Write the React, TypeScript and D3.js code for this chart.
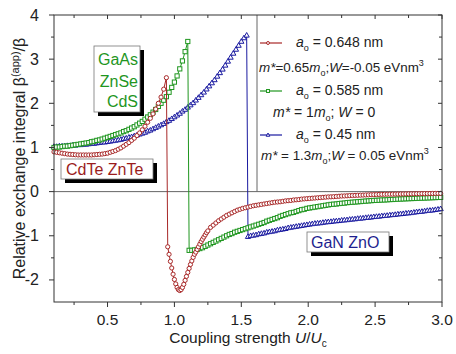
import React from "react";
import * as d3 from "d3";

// reading of the reference: relative exchange integral vs coupling strength
const X_TICKS = [0.5, 1.0, 1.5, 2.0, 2.5, 3.0];
const X_MINOR = [0.25, 0.75, 1.25, 1.75, 2.25, 2.75];
const Y_TICKS = [-2, -1, 0, 1, 2, 3, 4];
const Y_MINOR = [-1.5, -0.5, 0.5, 1.5, 2.5, 3.5];

// a0 = 0.648 nm (CdTe ZnTe)
// U/Uc = 0.10 .. 0.94 by 0.02
const RED_A = [
  0.9, 0.89, 0.88, 0.87, 0.86, 0.85, 0.845, 0.84, 0.835, 0.83, 0.83, 0.83, 0.83, 0.83, 0.83,
  0.835, 0.84, 0.845, 0.85, 0.86, 0.87, 0.89, 0.91, 0.93, 0.96, 0.99, 1.03, 1.07, 1.11, 1.16,
  1.21, 1.27, 1.33, 1.4, 1.48, 1.57, 1.66, 1.76, 1.87, 2.0, 2.14, 2.32, 2.58,
];
// U/Uc = 0.95 .. 1.25 by 0.01
const RED_B = [
  -1.25, -1.42, -1.58, -1.73, -1.87, -1.99, -2.09, -2.17, -2.22, -2.24, -2.22, -2.17, -2.1,
  -2.01, -1.92, -1.83, -1.74, -1.65, -1.57, -1.49, -1.42, -1.37, -1.31, -1.25, -1.19, -1.13,
  -1.08, -1.03, -0.98, -0.93, -0.89,
];
// U/Uc = 1.27 .. 2.99 by 0.02
const RED_C = [
  -0.81, -0.76, -0.71, -0.66, -0.62, -0.58, -0.54, -0.51, -0.48, -0.45, -0.42, -0.4, -0.38,
  -0.365, -0.35, -0.335, -0.32, -0.31, -0.3, -0.29, -0.28, -0.27, -0.26, -0.25, -0.24, -0.235,
  -0.23, -0.22, -0.21, -0.205, -0.2, -0.19, -0.185, -0.18, -0.17, -0.165, -0.16, -0.155, -0.15,
  -0.145, -0.14, -0.135, -0.13, -0.125, -0.12, -0.118, -0.115, -0.11, -0.105, -0.1, -0.098,
  -0.095, -0.09, -0.088, -0.085, -0.083, -0.08, -0.078, -0.075, -0.073, -0.07, -0.068, -0.066,
  -0.064, -0.062, -0.06, -0.059, -0.058, -0.057, -0.056, -0.055, -0.054, -0.053, -0.052, -0.051,
  -0.05, -0.049, -0.048, -0.047, -0.046, -0.045, -0.044, -0.043, -0.042, -0.041, -0.04, -0.04,
];

// a0 = 0.585 nm (GaAs ZnSe CdS)
// U/Uc = 0.10 .. 1.10 by 0.02
const GREEN_A = [
  1.0, 1.01, 1.01, 1.02, 1.03, 1.03, 1.04, 1.05, 1.06, 1.07, 1.08, 1.09, 1.1, 1.11, 1.13, 1.14,
  1.16, 1.17, 1.19, 1.21, 1.23, 1.25, 1.27, 1.29, 1.31, 1.33, 1.36, 1.38, 1.41, 1.44, 1.47, 1.51,
  1.55, 1.59, 1.64, 1.69, 1.74, 1.8, 1.86, 1.93, 2.0, 2.07, 2.15, 2.25, 2.36, 2.48, 2.62, 2.78,
  2.96, 3.17, 3.4,
];
// U/Uc = 1.11 .. 2.99 by 0.02
const GREEN_B = [
  -1.33, -1.33, -1.32, -1.31, -1.29, -1.27, -1.24, -1.21, -1.18, -1.15, -1.12, -1.09, -1.06,
  -1.03, -1.0, -0.97, -0.95, -0.92, -0.9, -0.88, -0.86, -0.84, -0.82, -0.8, -0.78, -0.76, -0.74,
  -0.72, -0.7, -0.67, -0.65, -0.63, -0.61, -0.59, -0.56, -0.54, -0.52, -0.5, -0.48, -0.47, -0.45,
  -0.43, -0.41, -0.4, -0.38, -0.37, -0.36, -0.35, -0.34, -0.33, -0.32, -0.31, -0.3, -0.29,
  -0.285, -0.28, -0.27, -0.265, -0.26, -0.25, -0.245, -0.24, -0.235, -0.23, -0.225, -0.22,
  -0.215, -0.21, -0.205, -0.2, -0.198, -0.195, -0.19, -0.188, -0.185, -0.18, -0.178, -0.175,
  -0.17, -0.168, -0.165, -0.162, -0.16, -0.157, -0.155, -0.152, -0.15, -0.147, -0.145, -0.142,
  -0.14, -0.137, -0.135, -0.132, -0.13,
];

// a0 = 0.45 nm (GaN ZnO)
// U/Uc = 0.10 .. 1.54 by 0.02
const BLUE_A = [
  1.02, 1.02, 1.03, 1.03, 1.03, 1.04, 1.04, 1.05, 1.05, 1.06, 1.06, 1.07, 1.07, 1.08, 1.09, 1.09,
  1.1, 1.11, 1.12, 1.12, 1.13, 1.14, 1.15, 1.16, 1.17, 1.18, 1.2, 1.21, 1.23, 1.24, 1.26, 1.28,
  1.3, 1.32, 1.34, 1.37, 1.39, 1.42, 1.45, 1.48, 1.51, 1.54, 1.58, 1.61, 1.65, 1.69, 1.73, 1.77,
  1.82, 1.86, 1.91, 1.96, 2.01, 2.07, 2.13, 2.19, 2.25, 2.32, 2.39, 2.46, 2.53, 2.61, 2.69, 2.77,
  2.86, 2.95, 3.04, 3.13, 3.22, 3.31, 3.4, 3.48, 3.54,
];
// U/Uc = 1.55 .. 2.99 by 0.02
const BLUE_B = [
  -1.02, -1.0, -0.99, -0.98, -0.96, -0.95, -0.94, -0.92, -0.91, -0.9, -0.89, -0.87, -0.86, -0.85,
  -0.84, -0.82, -0.81, -0.8, -0.79, -0.78, -0.77, -0.76, -0.75, -0.74, -0.73, -0.72, -0.715,
  -0.71, -0.7, -0.69, -0.685, -0.68, -0.67, -0.665, -0.66, -0.65, -0.645, -0.64, -0.63, -0.625,
  -0.62, -0.61, -0.605, -0.6, -0.59, -0.585, -0.58, -0.57, -0.565, -0.56, -0.55, -0.545, -0.54,
  -0.53, -0.525, -0.52, -0.51, -0.505, -0.5, -0.49, -0.485, -0.48, -0.47, -0.46, -0.455, -0.45,
  -0.44, -0.43, -0.425, -0.42, -0.41, -0.4, -0.39,
];

const RED = "#a82828";
const GREEN = "#1f961f";
const BLUE = "#1a1aa0";

const FONT = "'Liberation Sans', Arial, Helvetica, sans-serif";

type Pt = [number, number];

const seg = (x0: number, dx: number, ys: number[]): Pt[] =>
  ys.map((y, i) => [x0 + i * dx, y] as Pt);

const series = [
  { name: "blue", color: BLUE, marker: "tri", pts: [...seg(0.1, 0.02, BLUE_A), ...seg(1.55, 0.02, BLUE_B)] },
  { name: "green", color: GREEN, marker: "sq", pts: [...seg(0.1, 0.02, GREEN_A), ...seg(1.11, 0.02, GREEN_B)] },
  {
    name: "red",
    color: RED,
    marker: "circ",
    pts: [...seg(0.1, 0.02, RED_A), ...seg(0.95, 0.01, RED_B), ...seg(1.27, 0.02, RED_C)],
  },
];

function Marker({ kind, x, y, color, s = 1 }: { kind: string; x: number; y: number; color: string; s?: number }) {
  if (kind === "circ")
    return <circle cx={x} cy={y} r={2.1 * s} fill="white" stroke={color} strokeWidth={1} />;
  if (kind === "sq")
    return (
      <rect
        x={x - 2.1 * s}
        y={y - 2.1 * s}
        width={4.2 * s}
        height={4.2 * s}
        fill="white"
        stroke={color}
        strokeWidth={1}
      />
    );
  return (
    <path
      d={`M${x},${y - 2.8 * s}L${x + 2.6 * s},${y + 1.8 * s}L${x - 2.6 * s},${y + 1.8 * s}Z`}
      fill="white"
      stroke={color}
      strokeWidth={1}
    />
  );
}

function Boxed({ x, y, w, h, children }: { x: number; y: number; w: number; h: number; children: React.ReactNode }) {
  return (
    <g>
      <rect x={x + 4} y={y + 4} width={w} height={h} fill="black" />
      <rect x={x} y={y} width={w} height={h} fill="white" stroke="#777" strokeWidth={0.8} />
      {children}
    </g>
  );
}

export default function App() {
  const width = 456;
  const height = 354;
  const margin = { top: 15, right: 14, bottom: 52, left: 54 };
  const x = d3.scaleLinear().domain([0.1, 3.0]).range([margin.left, width - margin.right]);
  const y = d3.scaleLinear().domain([-2.5, 4]).range([height - margin.bottom, margin.top]);
  const [x0, x1] = x.range();
  const [y0, y1] = y.range();

  const line = d3
    .line<Pt>()
    .x((d) => x(d[0]))
    .y((d) => y(d[1]));

  const legendLeft = 257;
  const legendRows = [
    { color: RED, marker: "circ", y: 43 },
    { color: GREEN, marker: "sq", y: 91 },
    { color: BLUE, marker: "tri", y: 135 },
  ];

  return (
    <svg
      width={width}
      height={height}
      style={{ position: "absolute", left: 0, top: 0, background: "white" }}
      fontFamily={FONT}
    >
      <rect width={width} height={height} fill="white" />

      {/* zero line and legend frame */}
      <line x1={x0} x2={x1} y1={y(0)} y2={y(0)} stroke="#666" strokeWidth={1} />
      <line x1={legendLeft} x2={legendLeft} y1={y1} y2={y(0)} stroke="#666" strokeWidth={1} />

      {/* curves */}
      {series.map((s) => (
        <g key={s.name}>
          <path d={line(s.pts) || ""} fill="none" stroke={s.color} strokeWidth={1} />
          {s.pts.map((p, i) => (
            <Marker key={i} kind={s.marker} x={x(p[0])} y={y(p[1])} color={s.color} />
          ))}
        </g>
      ))}

      {/* frame */}
      <rect x={x0} y={y1} width={x1 - x0} height={y0 - y1} fill="none" stroke="#333" strokeWidth={1} />

      {/* x ticks */}
      {X_TICKS.map((t) => (
        <g key={"xt" + t}>
          <line x1={x(t)} x2={x(t)} y1={y0} y2={y0 + 5} stroke="#333" />
          <line x1={x(t)} x2={x(t)} y1={y1} y2={y1 + 4} stroke="#333" />
          <text x={x(t)} y={325} textAnchor="middle" fontSize={15.5} fill="#222">
            {d3.format(".1f")(t)}
          </text>
        </g>
      ))}
      {X_MINOR.map((t) => (
        <g key={"xm" + t}>
          <line x1={x(t)} x2={x(t)} y1={y0} y2={y0 + 3} stroke="#333" />
          <line x1={x(t)} x2={x(t)} y1={y1} y2={y1 + 3} stroke="#333" />
        </g>
      ))}

      {/* y ticks */}
      {Y_TICKS.map((t) => (
        <g key={"yt" + t}>
          <line x1={x0 - 5} x2={x0} y1={y(t)} y2={y(t)} stroke="#333" />
          <line x1={x1 - 4} x2={x1} y1={y(t)} y2={y(t)} stroke="#333" />
          <text x={39} y={y(t) + 5.5} textAnchor="end" fontSize={16} fill="#222">
            {String(t)}
          </text>
        </g>
      ))}
      {Y_MINOR.map((t) => (
        <g key={"ym" + t}>
          <line x1={x0 - 3} x2={x0} y1={y(t)} y2={y(t)} stroke="#333" />
          <line x1={x1 - 3} x2={x1} y1={y(t)} y2={y(t)} stroke="#333" />
        </g>
      ))}

      {/* axis titles */}
      <text x={(x0 + x1) / 2} y={343} textAnchor="middle" fontSize={15.5} fill="#222">
        Coupling strength <tspan fontStyle="italic">U</tspan>/<tspan fontStyle="italic">U</tspan>
        <tspan fontSize={10} dy={4}>c</tspan>
      </text>
      <text transform={`translate(25,${(y0 + y1) / 2}) rotate(-90)`} textAnchor="middle" fontSize={16} fill="#222">
        Relative exchange integral β<tspan fontSize={11} dy={-6}>(app)</tspan>
        <tspan dy={6}>/β</tspan>
      </text>

      {/* legend */}
      {legendRows.map((r, i) => (
        <g key={"lg" + i}>
          <line x1={260} x2={282} y1={r.y} y2={r.y} stroke={r.color} strokeWidth={1.2} />
          <Marker kind={r.marker} x={268} y={r.y} color={r.color} s={0.7} />
        </g>
      ))}
      <g fontSize={14} fill="#222">
        <text x={296} y={47}>
          <tspan fontStyle="italic">a</tspan>
          <tspan fontSize={9} dy={4}>o</tspan>
          <tspan dy={-4}> = 0.648 nm</tspan>
        </text>
        <text x={259} y={72} fontSize={13.4}>
          <tspan fontStyle="italic">m*</tspan>=0.65<tspan fontStyle="italic">m</tspan>
          <tspan fontSize={9} dy={4}>o</tspan>
          <tspan dy={-4}>;</tspan>
          <tspan fontStyle="italic">W</tspan>=-0.05 eVnm<tspan fontSize={9} dy={-6}>3</tspan>
        </text>
        <text x={296} y={95}>
          <tspan fontStyle="italic">a</tspan>
          <tspan fontSize={9} dy={4}>o</tspan>
          <tspan dy={-4}> = 0.585 nm</tspan>
        </text>
        <text x={273} y={117}>
          <tspan fontStyle="italic">m*</tspan> = 1<tspan fontStyle="italic">m</tspan>
          <tspan fontSize={9} dy={4}>o</tspan>
          <tspan dy={-4}>; </tspan>
          <tspan fontStyle="italic">W</tspan> = 0
        </text>
        <text x={296} y={139}>
          <tspan fontStyle="italic">a</tspan>
          <tspan fontSize={9} dy={4}>o</tspan>
          <tspan dy={-4}> = 0.45 nm</tspan>
        </text>
        <text x={261} y={160} fontSize={13.4}>
          <tspan fontStyle="italic">m*</tspan> = 1.3<tspan fontStyle="italic">m</tspan>
          <tspan fontSize={9} dy={4}>o</tspan>
          <tspan dy={-4}>;</tspan>
          <tspan fontStyle="italic">W</tspan> = 0.05 eVnm<tspan fontSize={9} dy={-6}>3</tspan>
        </text>
      </g>

      {/* material labels */}
      <Boxed x={94} y={46} w={46} h={66}>
        <g fontSize={16} fill={GREEN} textAnchor="end">
          <text x={138} y={65}>GaAs</text>
          <text x={138} y={87}>ZnSe</text>
          <text x={138} y={107}>CdS</text>
        </g>
      </Boxed>
      <Boxed x={61} y={159} w={92} h={20}>
        <text x={66} y={175} fontSize={16} fill="#9b1c1c">
          CdTe ZnTe
        </text>
      </Boxed>
      <Boxed x={307} y={232} w={82} h={20}>
        <text x={311} y={248} fontSize={16} fill="#1f1f8f">
          GaN  ZnO
        </text>
      </Boxed>
    </svg>
  );
}
